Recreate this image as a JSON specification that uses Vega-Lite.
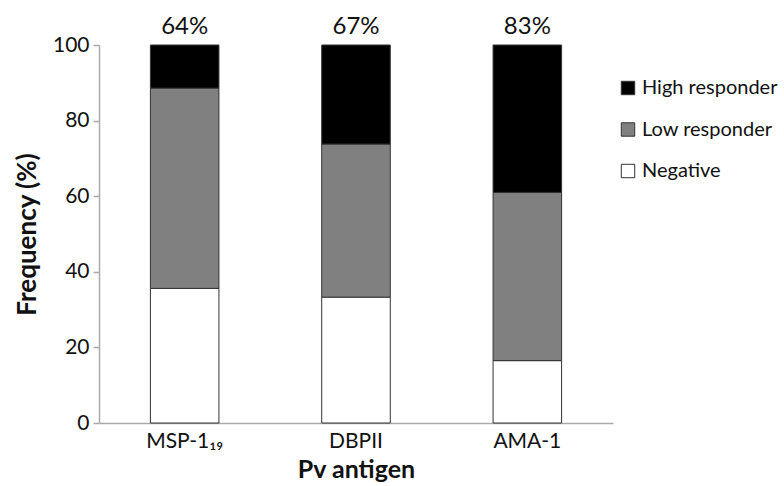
{
  "$schema": "https://vega.github.io/schema/vega-lite/v6.json",
  "autosize": "none",
  "width": 514,
  "height": 378,
  "padding": {"left": 99, "top": 45, "right": 171, "bottom": 63},
  "background": "white",
  "config": {
    "view": {"stroke": null},
    "font": "Lato"
  },
  "datasets": {
    "bars": [
      {"antigen": "MSP-1₁₉", "status": "Negative", "value": 35.6},
      {"antigen": "MSP-1₁₉", "status": "Low responder", "value": 53.0},
      {"antigen": "MSP-1₁₉", "status": "High responder", "value": 11.4},
      {"antigen": "DBPII", "status": "Negative", "value": 33.3},
      {"antigen": "DBPII", "status": "Low responder", "value": 40.5},
      {"antigen": "DBPII", "status": "High responder", "value": 26.2},
      {"antigen": "AMA-1", "status": "Negative", "value": 16.5},
      {"antigen": "AMA-1", "status": "Low responder", "value": 44.5},
      {"antigen": "AMA-1", "status": "High responder", "value": 39.0}
    ],
    "labels": [
      {"antigen": "MSP-1₁₉", "top": 100, "label": "64%"},
      {"antigen": "DBPII", "top": 100, "label": "67%"},
      {"antigen": "AMA-1", "top": 100, "label": "83%"}
    ]
  },
  "layer": [
    {
      "data": {"name": "bars"},
      "mark": {"type": "bar", "stroke": "#333333", "strokeWidth": 1},
      "encoding": {
        "x": {
          "field": "antigen", "type": "nominal",
          "sort": ["MSP-1₁₉", "DBPII", "AMA-1"],
          "scale": {"paddingInner": 0.6, "paddingOuter": 0.3},
          "axis": {
            "title": "Pv antigen", "labelAngle": 0, "ticks": false,
            "domainColor": "#aaaaaa", "domainWidth": 1.5,
            "labelFontSize": 21, "labelColor": "#111111", "labelPadding": 7,
            "titleFontSize": 25, "titleFontWeight": "bold", "titleColor": "#111111", "titlePadding": 6
          }
        },
        "y": {
          "field": "value", "type": "quantitative", "stack": "zero",
          "scale": {"domain": [0, 100], "nice": false},
          "axis": {
            "title": "Frequency (%)", "values": [0, 20, 40, 60, 80, 100], "grid": false,
            "domainColor": "#aaaaaa", "domainWidth": 1.5, "tickColor": "#aaaaaa", "tickSize": 6, "tickWidth": 1.5,
            "labelFontSize": 21, "labelColor": "#111111", "labelPadding": 4,
            "titleFontSize": 26, "titleFontWeight": "bold", "titleColor": "#111111", "titlePadding": 12
          }
        },
        "color": {
          "field": "status", "type": "nominal",
          "scale": {"domain": ["High responder", "Low responder", "Negative"], "range": ["#000000", "#808080", "#ffffff"]},
          "legend": {
            "title": null, "orient": "none", "legendX": 519, "legendY": 33,
            "symbolType": "square", "symbolSize": 180, "symbolStrokeColor": "#333333", "symbolStrokeWidth": 1,
            "labelFontSize": 20, "labelColor": "#111111", "rowPadding": 21.5, "labelOffset": 4, "labelLimit": 200
          }
        },
        "order": {"field": "status", "sort": "descending"}
      }
    },
    {
      "data": {"name": "labels"},
      "mark": {"type": "text", "fontSize": 24, "baseline": "alphabetic", "dy": -11, "color": "#111111"},
      "encoding": {
        "x": {"field": "antigen", "type": "nominal", "sort": ["MSP-1₁₉", "DBPII", "AMA-1"]},
        "y": {"field": "top", "type": "quantitative"},
        "text": {"field": "label"}
      }
    }
  ]
}
